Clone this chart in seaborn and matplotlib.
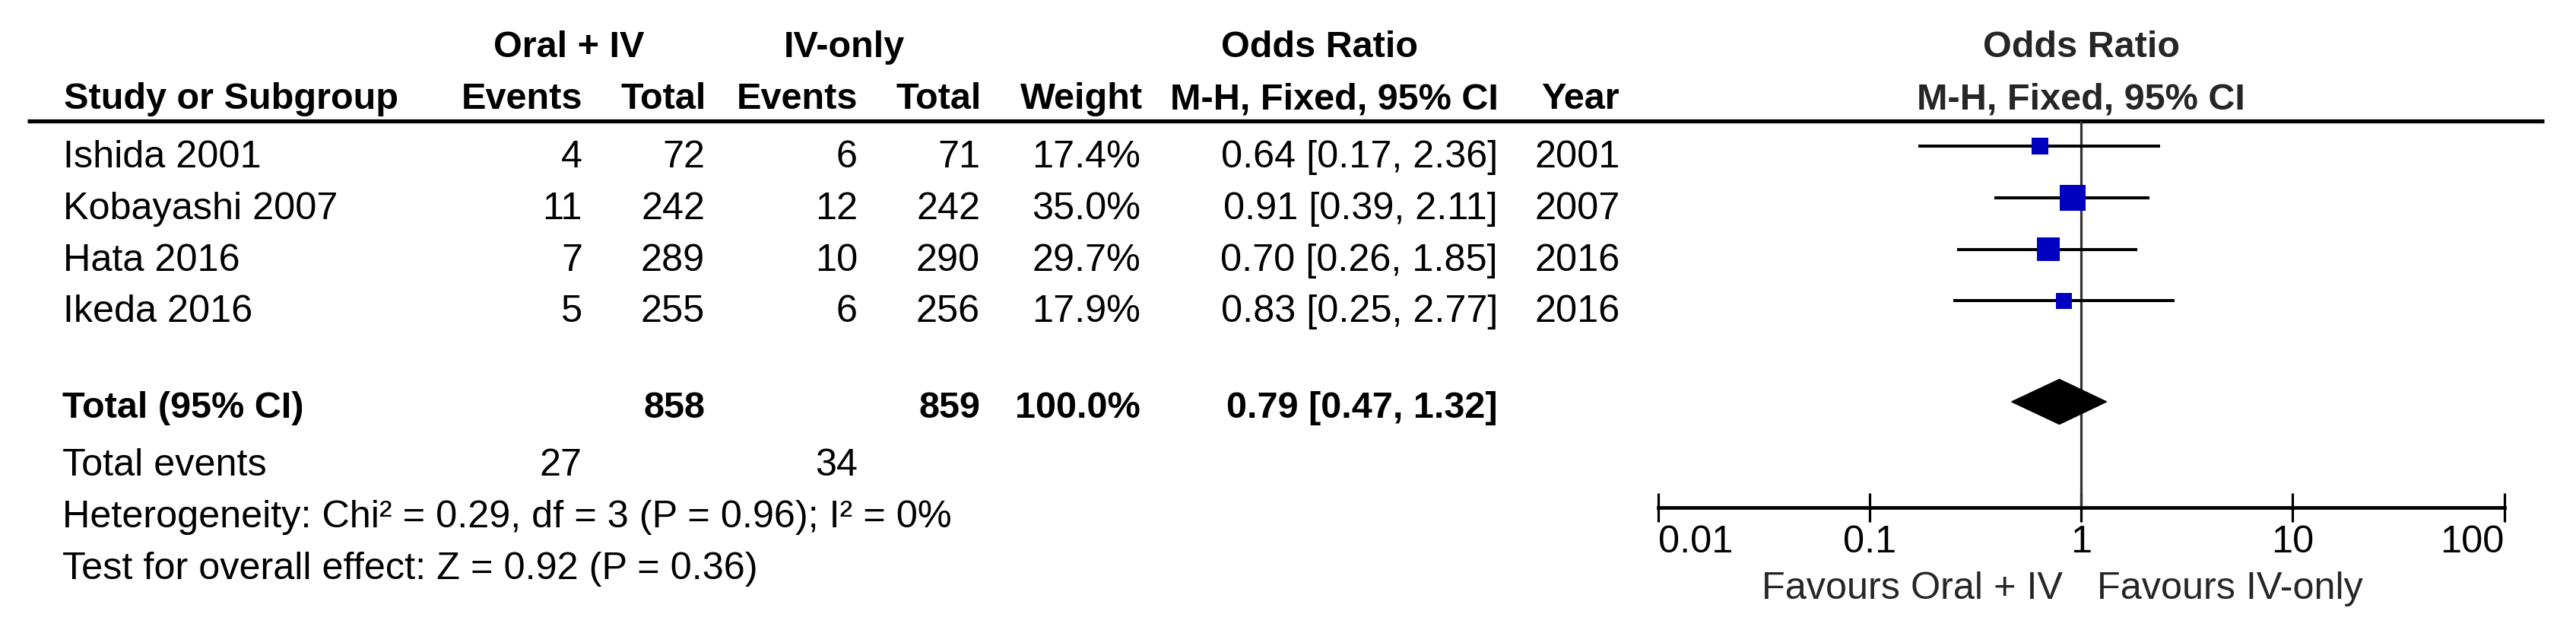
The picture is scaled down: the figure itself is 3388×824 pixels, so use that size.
import matplotlib
matplotlib.use("Agg")
import matplotlib.pyplot as plt
import matplotlib.ticker as mticker
import seaborn as sns

# study data
studies = ["Ishida 2001", "Kobayashi 2007", "Hata 2016", "Ikeda 2016"]
events_oral = [4, 11, 7, 5]
total_oral = [72, 242, 289, 255]
events_iv = [6, 12, 10, 6]
total_iv = [71, 242, 290, 256]
weights = [17.4, 35.0, 29.7, 17.9]
odds = [0.64, 0.91, 0.70, 0.83]
ci_low = [0.17, 0.39, 0.26, 0.25]
ci_high = [2.36, 2.11, 1.85, 2.77]
years = [2001, 2007, 2016, 2016]

pooled_or, pooled_lo, pooled_hi = 0.79, 0.47, 1.32
chi2, df_het, p_het, i2 = 0.29, 3, 0.96, 0
z_val, p_z = 0.92, 0.36

tick_values = [0.01, 0.1, 1, 10, 100]
tick_labels = ["0.01", "0.1", "1", "10", "100"]
fav_left, fav_right = "Favours Oral + IV", "Favours IV-only"

sns.set_style("white")
plt.rcParams["font.family"] = ["Liberation Sans", "DejaVu Sans"]
FS = 36.3      # regular text
FS_B = 35.0    # bold headers

W, H = 3388, 824
fig = plt.figure(figsize=(W / 100, H / 100), dpi=100)

# table layer, pixel coordinates
tab = fig.add_axes([0, 0, 1, 1])
tab.set_xlim(0, W)
tab.set_ylim(H, 0)
tab.axis("off")

# forest layer, log odds ratio
x_lo, x_hi = 2180.5, 3293.5
fp = fig.add_axes([x_lo / W, 0, (x_hi - x_lo) / W, 1])
fp.patch.set_alpha(0)

row_base = [220 + 67.8 * i for i in range(len(studies))]
mark_y = [b - 28 for b in row_base]
total_base, events_base, het_base, test_base = 549, 625, 693, 761
header1, header2 = 75, 143
line_y, axis_y = 159, 667


def txt(x, y, s, ha="left", bold=False):
    tab.text(x, y, s, ha=ha, va="baseline", fontsize=FS_B if bold else FS,
             fontweight="bold" if bold else "normal", color="black")


# headers
txt(748, header1, "Oral + IV", "center", True)
txt(1110, header1, "IV-only", "center", True)
txt(1736, header1, "Odds Ratio", "center", True)
txt(84, header2, "Study or Subgroup", "left", True)
txt(766, header2, "Events", "right", True)
txt(929, header2, "Total", "right", True)
txt(1128, header2, "Events", "right", True)
txt(1291, header2, "Total", "right", True)
txt(1503, header2, "Weight", "right", True)
txt(1971, header2, "M-H, Fixed, 95% CI", "right", True)
txt(2078, header2, "Year", "center", True)
tab.hlines(line_y, 36, 3346, color="black", lw=3.8)

# study rows
for i, name in enumerate(studies):
    b = row_base[i]
    txt(83, b, name)
    txt(766, b, str(events_oral[i]), "right")
    txt(927, b, str(total_oral[i]), "right")
    txt(1128, b, str(events_iv[i]), "right")
    txt(1289, b, str(total_iv[i]), "right")
    txt(1500, b, f"{weights[i]:.1f}%", "right")
    txt(1970, b, f"{odds[i]:.2f} [{ci_low[i]:.2f}, {ci_high[i]:.2f}]", "right")
    txt(2075, b, str(years[i]), "center")

# totals
txt(82, total_base, "Total (95% CI)", bold=True)
txt(927, total_base, str(sum(total_oral)), "right", True)
txt(1289, total_base, str(sum(total_iv)), "right", True)
txt(1500, total_base, f"{sum(weights):.1f}%", "right", True)
txt(1970, total_base, f"{pooled_or:.2f} [{pooled_lo:.2f}, {pooled_hi:.2f}]", "right", True)
txt(82, events_base, "Total events")
txt(766, events_base, str(sum(events_oral)), "right")
txt(1128, events_base, str(sum(events_iv)), "right")
txt(82, het_base, f"Heterogeneity: Chi\u00b2 = {chi2:.2f}, df = {df_het} (P = {p_het:.2f}); I\u00b2 = {i2}%")
txt(82, test_base, f"Test for overall effect: Z = {z_val:.2f} (P = {p_z:.2f})")

# forest plot
fp.vlines(1, line_y, axis_y, color="#333333", lw=2.3, zorder=1)
fp.hlines(mark_y, ci_low, ci_high, color="black", lw=2.9, zorder=2)
sns.scatterplot(x=odds, y=mark_y, size=weights, sizes=(235, 600), marker="s",
                color="#0000C0", linewidth=0, legend=False, ax=fp, zorder=3)
dy = 29.5
diamond_y = total_base - 21
fp.fill([pooled_lo, pooled_or, pooled_hi, pooled_or],
        [diamond_y, diamond_y - dy, diamond_y, diamond_y + dy],
        color="black", zorder=3)

fp.set_xscale("log")
fp.set_xlim(0.01, 100)
fp.set_ylim(H, 0)
fp.set_xlabel("")
fp.set_ylabel("")
fp.set_yticks([])
for s in ["top", "left", "right"]:
    fp.spines[s].set_visible(False)
fp.spines["bottom"].set_position(("data", axis_y))
fp.spines["bottom"].set_linewidth(3.4)
fp.spines["bottom"].set_color("black")
fp.set_xticks(tick_values, labels=tick_labels)
fp.xaxis.set_minor_locator(mticker.NullLocator())
fp.tick_params(axis="x", direction="inout", length=27, width=2.3, pad=3,
               labelsize=FS, colors="black", bottom=True)
labels = fp.get_xticklabels()
labels[0].set_ha("left")
labels[-1].set_ha("right")

fp.text(1, header1, "Odds Ratio", ha="center", va="baseline", fontsize=FS_B, fontweight="bold")
fp.text(1, header2, "M-H, Fixed, 95% CI", ha="center", va="baseline", fontsize=FS_B, fontweight="bold")
fp.annotate(fav_left, xy=(1, 787), xytext=(-17, 0), textcoords="offset points",
            ha="right", va="baseline", fontsize=FS)
fp.annotate(fav_right, xy=(1, 787), xytext=(15, 0), textcoords="offset points",
            ha="left", va="baseline", fontsize=FS)

fig.savefig("out.png", dpi=100, facecolor="white")
